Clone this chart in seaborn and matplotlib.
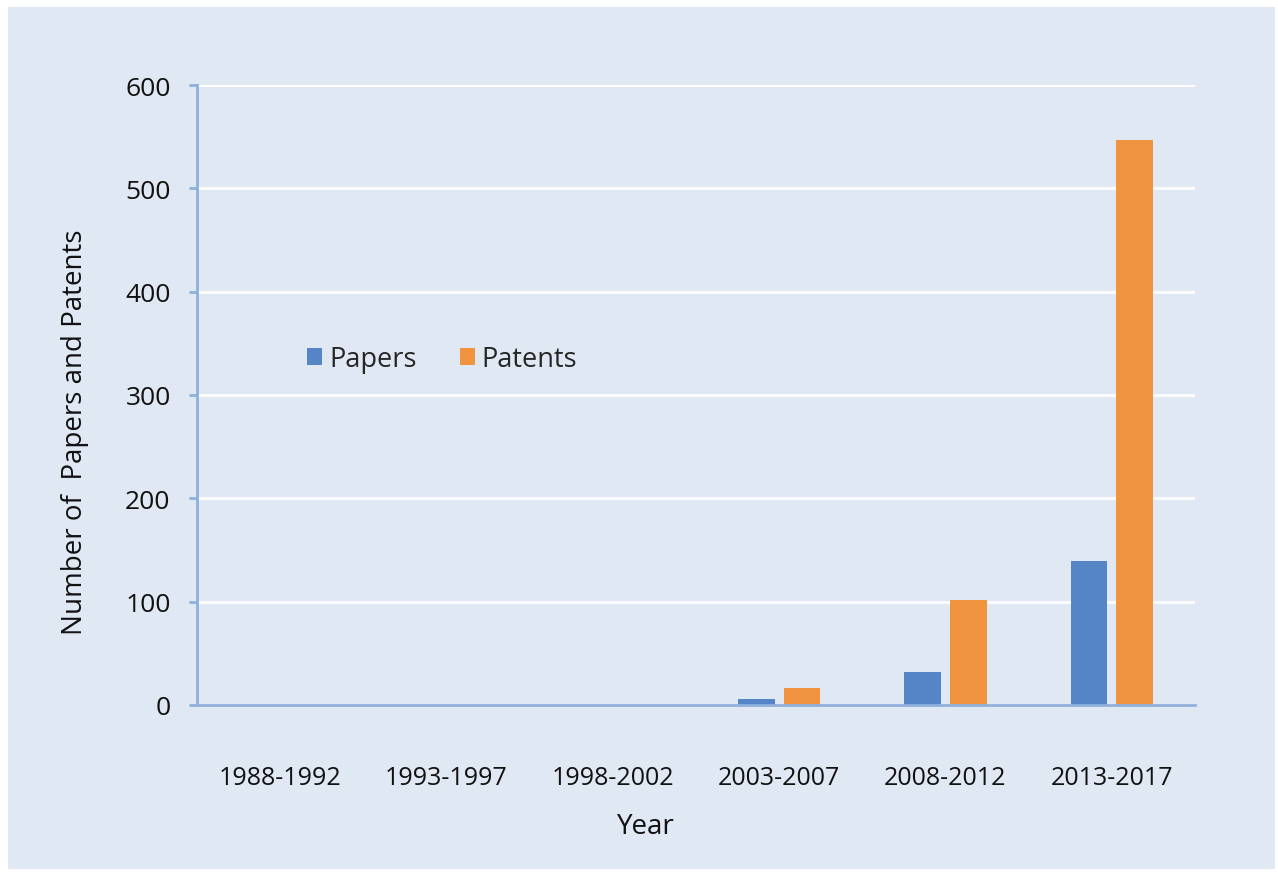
import matplotlib
matplotlib.use("Agg")
import matplotlib.pyplot as plt
import seaborn as sns
import pandas as pd
from matplotlib.patches import Rectangle

# Publication counts per five-year period
periods = ["1988-1992", "1993-1997", "1998-2002", "2003-2007", "2008-2012", "2013-2017"]
papers = [0, 0, 0, 6, 32, 139]
patents = [0, 0, 0, 16, 102, 547]
series_names = ["Papers", "Patents"]
y_ticks = [0, 100, 200, 300, 400, 500, 600]

bg = "#e0e8f4"
spine_col = "#8fb0dc"
colors = ["#5585c6", "#f0943f"]

df = pd.DataFrame({
    "Year": periods * 2,
    "Count": papers + patents,
    "Series": [series_names[0]] * len(periods) + [series_names[1]] * len(periods),
})

sns.set_theme(style="white")
plt.rcParams["font.family"] = ["Open Sans", "DejaVu Sans"]

fig = plt.figure(figsize=(12.78, 8.78), dpi=100, facecolor="white")
W, H = 1278, 878
fig.patches.append(Rectangle((8 / W, 8 / H), (1275 - 8) / W, (870 - 8) / H,
                             transform=fig.transFigure, facecolor=bg,
                             edgecolor="none", zorder=-10))

ax = fig.add_axes([197 / W, 1 - 706 / H, (1195 - 197) / W, (706 - 86) / H])
ax.set_zorder(1)
ax.set_facecolor(bg)

sns.barplot(data=df, x="Year", y="Count", hue="Series", palette=colors,
            width=0.55, gap=0.2, ax=ax, saturation=1, legend=True,
            linewidth=0, edgecolor="none")

ax.set_ylim(0, 600)
ax.set_xlim(-0.5, len(periods) - 0.5)
ax.set_yticks(y_ticks)
ax.yaxis.grid(True, color="white", linewidth=2)
ax.set_axisbelow(True)

for s in ["top", "right"]:
    ax.spines[s].set_visible(False)
for s in ["left", "bottom"]:
    ax.spines[s].set_color(spine_col)
    ax.spines[s].set_linewidth(2)

ax.tick_params(axis="y", which="major", left=True, length=6, width=2,
               color=spine_col, labelsize=19, pad=13, labelcolor="#111111")
ax.tick_params(axis="x", which="major", bottom=False, labelsize=18, pad=37,
               labelcolor="#111111")

ax.set_xlabel("Year", fontsize=20, color="#111111")
ax.set_ylabel("Number of  Papers and Patents", fontsize=20, color="#111111")
# label centres in axes coordinates
ax.xaxis.set_label_coords((646 - 197) / 998, -(827 - 706) / 620)
ax.yaxis.set_label_coords(-(197 - 75) / 998, (706 - 432) / 620)
ax.xaxis.label.set_va("center")
ax.yaxis.label.set_va("center")

ax.legend(loc="center left", bbox_to_anchor=(0.097, 0.558), ncol=2, frameon=False,
          fontsize=19.5, handlelength=0.55, handleheight=0.55, handletextpad=0.25,
          columnspacing=1.6, borderpad=0)

fig.savefig("out.png", dpi=100, facecolor="white")
